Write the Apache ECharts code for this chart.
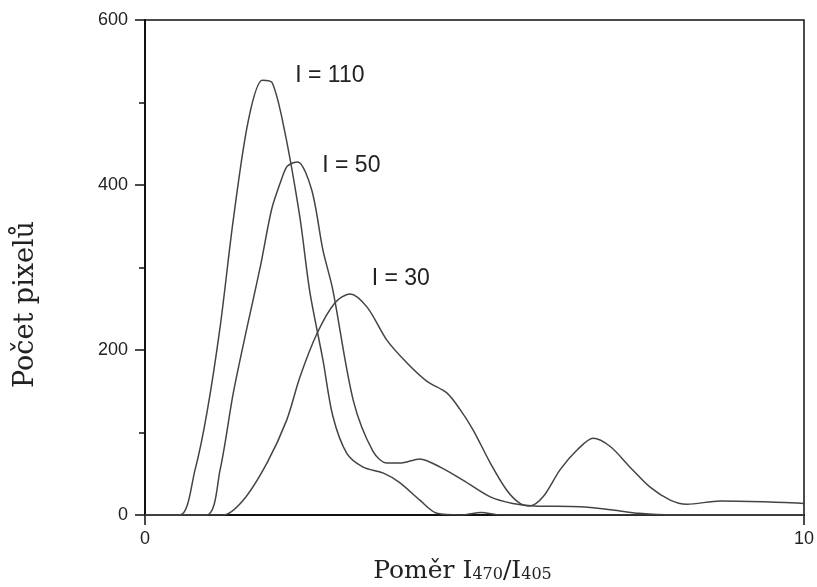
<!DOCTYPE html>
<html>
<head>
<meta charset="utf-8">
<script src="https://cdn.jsdelivr.net/npm/echarts@6/dist/echarts.min.js"></script>
<style>
  html, body { margin: 0; padding: 0; background: #fff; }
  #chart { width: 817px; height: 587px; }
</style>
</head>
<body>
<div id="chart"></div>
<script>
// ratio I470/I405 (x) and pixel counts (y)
const ratio110 = [0, 0.53, 0.76, 0.94, 1.14, 1.34, 1.57, 1.78, 1.93, 2.12, 2.35, 2.5, 2.7, 2.85, 3.06, 3.31, 3.61, 3.87, 4.17, 4.43, 4.8, 5.1, 5.4, 10];
const count110 = [0, 0, 55, 124, 228, 358, 479, 527, 524, 465, 361, 271, 188, 120, 75, 58, 51, 39, 18, 2, 0, 3, 0, 0];

const ratio50 = [0, 0.93, 1.14, 1.34, 1.55, 1.75, 1.92, 2.05, 2.15, 2.25, 2.32, 2.53, 2.7, 2.85, 3.16, 3.46, 3.67, 3.87, 4.17, 4.48, 4.83, 5.24, 5.58, 5.9, 6.6, 7.1, 7.5, 8, 10];
const count50 = [0, 0, 55, 148, 228, 301, 370, 402, 422, 427, 428, 394, 321, 273, 139, 77, 63, 63, 68, 58, 42, 22, 14, 11, 10, 6, 2, 0, 0];

const ratio30 = [0, 1.18, 1.49, 1.85, 2.15, 2.35, 2.61, 2.88, 3.11, 3.37, 3.67, 3.98, 4.28, 4.58, 4.78, 4.98, 5.24, 5.49, 5.69, 5.84, 6.04, 6.3, 6.56, 6.8, 7.06, 7.36, 7.66, 7.97, 8.22, 8.73, 9.38, 10];
const count30 = [0, 0, 18, 63, 115, 167, 220, 257, 268, 252, 212, 184, 162, 148, 128, 103, 63, 30, 14, 11, 22, 55, 79, 93, 83, 58, 34, 18, 13, 17, 16, 14];

const seriesNames = ['I = 110', 'I = 50', 'I = 30'];
// where each curve's label starts (ratio, count)
const labelAt = [[2.28, 533], [2.69, 423], [3.44, 287]];

const yTicks = [0, 200, 400, 600];
const xTicks = [0, 10];

const zip = (xs, ys) => xs.map((x, i) => [x, ys[i]]);
const curves = [zip(ratio110, count110), zip(ratio50, count50), zip(ratio30, count30)];

const chart = echarts.init(document.getElementById('chart'));

const lineColor = '#444';
const axisColor = '#111';
const sansFont = 'Liberation Sans, Arial, sans-serif';
const serifFont = 'DejaVu Serif, serif';

const options = {
  animation: false,
  backgroundColor: '#fff',
  grid: {
    left: 145,
    right: 13,
    top: 20,
    bottom: 72,
    outerBoundsMode: 'none',
    show: true,
    borderColor: axisColor,
    borderWidth: 1.5,
  },
  xAxis: {
    type: 'value',
    min: 0,
    max: 10,
    interval: 10,
    splitLine: { show: false },
    axisLine: { lineStyle: { color: axisColor, width: 2 } },
    axisTick: { show: true, inside: false, length: 10, lineStyle: { color: axisColor, width: 1.5 } },
    axisLabel: {
      margin: 15,
      color: '#222',
      fontFamily: sansFont,
      fontSize: 18,
      formatter: (v) => (xTicks.includes(v) ? String(v) : ''),
    },
    name: '{a|Poměr I}{s|470}{a|/I}{s|405}',
    nameLocation: 'middle',
    nameGap: 44,
    nameTextStyle: {
      padding: [0, 24, 0, 0],
      rich: {
        a: { fontFamily: serifFont, fontSize: 25, color: '#222' },
        s: { fontFamily: serifFont, fontSize: 16, color: '#222', verticalAlign: 'bottom', padding: [0, 0, 1, 0] },
      },
    },
  },
  yAxis: {
    type: 'value',
    min: 0,
    max: 600,
    interval: 200,
    splitLine: { show: false },
    axisLine: { show: true, lineStyle: { color: axisColor, width: 2 } },
    axisTick: { show: true, inside: false, length: 10, lineStyle: { color: axisColor, width: 1.5 } },
    minorTick: { show: true, splitNumber: 2, length: 6, lineStyle: { color: axisColor, width: 1.5 } },
    axisLabel: {
      margin: 17,
      color: '#222',
      fontFamily: sansFont,
      fontSize: 18,
      formatter: (v) => (yTicks.includes(v) ? String(v) : ''),
    },
    name: 'Počet pixelů',
    nameLocation: 'middle',
    nameGap: 106,
    nameTextStyle: { fontFamily: serifFont, fontSize: 27, color: '#222', padding: [0, 74, 0, 0] },
  },
  series: [],
};

for (let j = 0; j < curves.length; j++) {
  options.series.push({
    name: seriesNames[j],
    type: 'line',
    data: curves[j],
    smooth: 0.3,
    showSymbol: false,
    lineStyle: { color: lineColor, width: 1.5 },
    markPoint: {
      symbol: 'circle',
      symbolSize: 0,
      data: [{ coord: labelAt[j] }],
      label: {
        show: true,
        position: 'right',
        distance: 0,
        formatter: seriesNames[j],
        color: '#222',
        fontFamily: sansFont,
        fontSize: 23,
      },
    },
  });
}

chart.setOption(options);
</script>
</body>
</html>
